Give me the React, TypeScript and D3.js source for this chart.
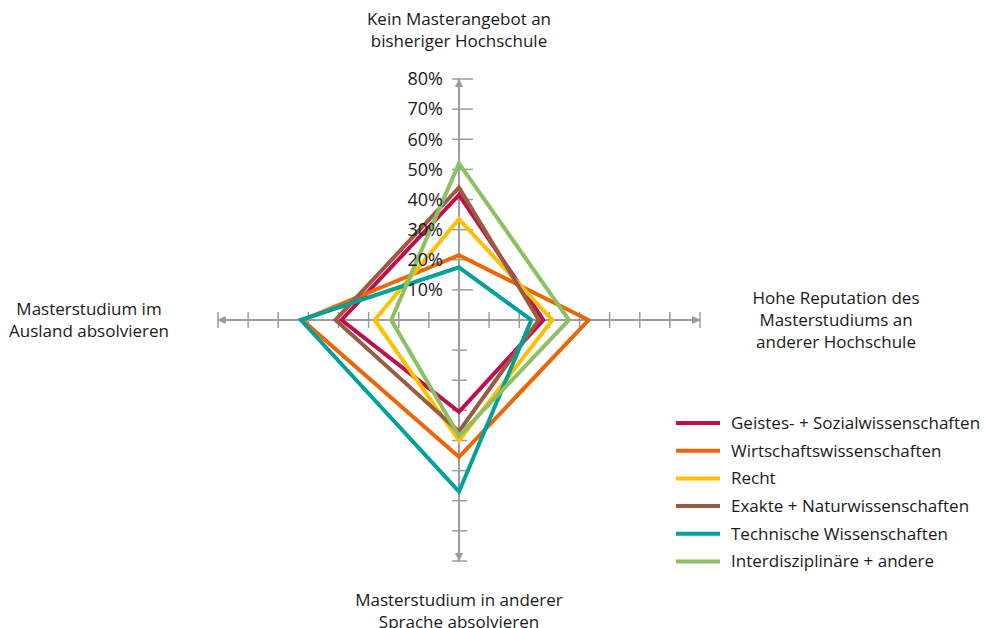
import React, { useEffect, useRef } from 'react';
import * as d3 from 'd3';

// axes, clockwise from top
const axisLabels: string[][] = [
  ['Kein Masterangebot an', 'bisheriger Hochschule'],
  ['Hohe Reputation des', 'Masterstudiums an', 'anderer Hochschule'],
  ['Masterstudium in anderer', 'Sprache absolvieren'],
  ['Masterstudium im', 'Ausland absolvieren'],
];

const seriesNames = [
  'Geistes- + Sozialwissenschaften',
  'Wirtschaftswissenschaften',
  'Recht',
  'Exakte + Naturwissenschaften',
  'Technische Wissenschaften',
  'Interdisziplinäre + andere',
];

const seriesColors = ['#c00d4e', '#ec6608', '#ffc000', '#9b5a42', '#00a19a', '#8cc063'];

// values in % : top, right, bottom, left
const geistes = [41.5, 28, 30.5, 39];
const wirtschaft = [21.5, 43, 45.5, 52];
const recht = [33.5, 31, 40, 28];
const exakte = [44, 26.5, 37, 41];
const technische = [17.5, 24, 57, 52.5];
const interdis = [52, 36.5, 38.5, 22.5];

const seriesValues = [geistes, wirtschaft, recht, exakte, technische, interdis];

const tickValues = [10, 20, 30, 40, 50, 60, 70, 80];

const RadarChart: React.FC<{ width?: number; height?: number }> = ({ width = 984, height = 628 }) => {
  const svgRef = useRef<SVGSVGElement>(null);

  useEffect(() => {
    if (!svgRef.current) return;
    d3.select(svgRef.current).selectAll('*').remove();

    const svg = d3.select(svgRef.current).attr('width', width).attr('height', height);
    const font = '"Open Sans", sans-serif';
    const axisColor = '#9d9d9d';

    const cx = 459;
    const cy = 320;
    const r = d3.scaleLinear().domain([0, 80]).range([0, 241]);
    const angles = [0, Math.PI / 2, Math.PI, (3 * Math.PI) / 2];

    const g = svg.append('g').attr('transform', `translate(${cx},${cy})`);

    // axes
    const dirs = [
      [0, -1],
      [1, 0],
      [0, 1],
      [-1, 0],
    ];
    dirs.forEach(([dx, dy], i) => {
      const len = r(80);
      g.append('line')
        .attr('x1', 0)
        .attr('y1', 0)
        .attr('x2', dx * len)
        .attr('y2', dy * len)
        .attr('stroke', axisColor)
        .attr('stroke-width', 2);

      // ticks
      tickValues.forEach(t => {
        const p = r(t);
        if (dx === 0) {
          const right = i === 0 ? 14 : 8;
          g.append('line')
            .attr('x1', -7)
            .attr('x2', right)
            .attr('y1', dy * p)
            .attr('y2', dy * p)
            .attr('stroke', axisColor)
            .attr('stroke-width', 1.5);
        } else {
          g.append('line')
            .attr('x1', dx * p)
            .attr('x2', dx * p)
            .attr('y1', -8)
            .attr('y2', 8)
            .attr('stroke', axisColor)
            .attr('stroke-width', 1.5);
        }
      });

      // arrow head
      const tip = len + 1;
      const ax = dx * tip;
      const ay = dy * tip;
      const px = -dy;
      const py = dx;
      const back = 9;
      const half = 4;
      g.append('path')
        .attr(
          'd',
          `M${ax},${ay}L${ax - dx * back + px * half},${ay - dy * back + py * half}L${ax - dx * back - px * half},${ay - dy * back - py * half}Z`
        )
        .attr('fill', axisColor);
    });

    // series polygons
    const line = d3
      .lineRadial<number>()
      .angle((_, i) => angles[i])
      .radius(d => r(d))
      .curve(d3.curveLinearClosed);

    seriesValues.forEach((vals, i) => {
      g.append('path')
        .attr('d', line(vals) as string)
        .attr('fill', 'none')
        .attr('stroke', seriesColors[i])
        .attr('stroke-width', 4)
        .attr('stroke-linejoin', 'miter')
        .attr('stroke-miterlimit', 10);
    });

    // tick labels on top axis
    tickValues.forEach(t => {
      g.append('text')
        .attr('x', -16)
        .attr('y', -r(t))
        .attr('dy', '0.35em')
        .attr('text-anchor', 'end')
        .style('font-family', font)
        .style('font-size', '18px')
        .style('fill', '#1a1a1a')
        .text(`${t}%`);
    });

    // axis labels
    const labelPos = [
      { x: 459, y: 25, anchor: 'middle' },
      { x: 836, y: 304, anchor: 'middle' },
      { x: 459, y: 606, anchor: 'middle' },
      { x: 89, y: 315, anchor: 'middle' },
    ];
    axisLabels.forEach((lines, i) => {
      const t = svg
        .append('text')
        .attr('x', labelPos[i].x)
        .attr('y', labelPos[i].y)
        .attr('text-anchor', labelPos[i].anchor)
        .style('font-family', font)
        .style('font-size', '17px')
        .style('fill', '#1a1a1a');
      lines.forEach((l, j) => {
        t.append('tspan')
          .attr('x', labelPos[i].x)
          .attr('dy', j === 0 ? 0 : 22)
          .text(l);
      });
    });

    // legend
    const legend = svg.append('g').attr('transform', 'translate(676,423)');
    seriesNames.forEach((name, i) => {
      const row = legend.append('g').attr('transform', `translate(0,${i * 27.7})`);
      row.append('line')
        .attr('x1', 0)
        .attr('x2', 44)
        .attr('y1', 0)
        .attr('y2', 0)
        .attr('stroke', seriesColors[i])
        .attr('stroke-width', 4);
      row.append('text')
        .attr('x', 55)
        .attr('y', 0)
        .attr('dy', '0.35em')
        .style('font-family', font)
        .style('font-size', '17px')
        .style('fill', '#1a1a1a')
        .text(name);
    });
  }, [width, height]);

  return <svg ref={svgRef} style={{ position: 'absolute', left: 0, top: 0 }} />;
};

export default function App() {
  return <RadarChart />;
}
